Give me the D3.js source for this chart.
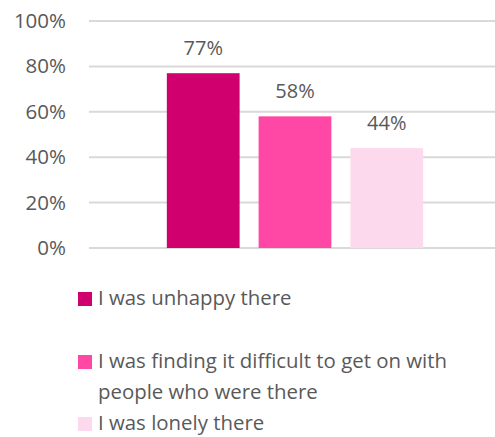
<!DOCTYPE html>
<html>
<head>
<meta charset="utf-8">
<script src="https://cdn.jsdelivr.net/npm/d3@7"></script>
<style>
  html, body { margin: 0; padding: 0; background: #fff; }
  svg { display: block; }
  text { font-family: "Open Sans", "DejaVu Sans", sans-serif; fill: #595959; }
</style>
</head>
<body>
<svg id="chart" width="495" height="437"></svg>
<script>
// Survey responses: share of respondents giving each reason
const series = [
  "I was unhappy there",
  "I was finding it difficult to get on with people who were there",
  "I was lonely there"
];
const values = [0.77, 0.58, 0.44];
const colors = ["#d0006f", "#ff48a5", "#fdd9ee"];
const yTicks = [0, 0.2, 0.4, 0.6, 0.8, 1.0];
const legendLines = [
  ["I was unhappy there"],
  ["I was finding it difficult to get on with", "people who were there"],
  ["I was lonely there"]
];

const svg = d3.select("#chart");
const plot = { left: 89, right: 501, top: 21, bottom: 248 };

const y = d3.scaleLinear().domain([0, 1]).range([plot.bottom, plot.top]);
const x = d3.scaleBand()
  .domain(series)
  .range([plot.left, plot.right])
  .paddingInner(0.207)
  .paddingOuter(0.848);

// gridlines
svg.append("g")
  .selectAll("line")
  .data(yTicks)
  .join("line")
  .attr("x1", plot.left)
  .attr("x2", plot.right)
  .attr("y1", d => y(d))
  .attr("y2", d => y(d))
  .attr("stroke", "#d9d9d9")
  .attr("stroke-width", 2);

// y axis labels
const yAxis = d3.axisLeft(y)
  .tickValues(yTicks)
  .tickFormat(d3.format(".0%"))
  .tickSize(0)
  .tickPadding(0);
const ya = svg.append("g")
  .attr("transform", `translate(66,0)`)
  .call(yAxis);
ya.select(".domain").remove();
ya.selectAll("text")
  .attr("font-size", 20.5)
  .attr("fill", "#595959")
  .style("font-family", "\"Open Sans\", sans-serif");

// bars
svg.append("g")
  .selectAll("rect")
  .data(series)
  .join("rect")
  .attr("x", d => x(d))
  .attr("width", x.bandwidth())
  .attr("y", (d, i) => y(values[i]))
  .attr("height", (d, i) => y(0) - y(values[i]))
  .attr("fill", (d, i) => colors[i]);

// value labels
svg.append("g")
  .selectAll("text")
  .data(series)
  .join("text")
  .attr("x", d => x(d) + x.bandwidth() / 2)
  .attr("y", (d, i) => y(values[i]) - 18)
  .attr("text-anchor", "middle")
  .attr("font-size", 20)
  .attr("fill", "#404040")
  .text((d, i) => d3.format(".0%")(values[i]));

// legend; the second entry wraps onto two lines
const legendRows = [305, 368, 430];
const legend = svg.append("g");
legendLines.forEach((lines, i) => {
  legend.append("rect")
    .attr("x", 78)
    .attr("y", legendRows[i] - 13)
    .attr("width", 14)
    .attr("height", 14)
    .attr("fill", colors[i]);
  const t = legend.append("text")
    .attr("x", 98)
    .attr("y", legendRows[i])
    .attr("font-size", 20.4);
  lines.forEach((line, j) => {
    t.append("tspan")
      .attr("x", 98)
      .attr("dy", j === 0 ? 0 : 31)
      .text(line);
  });
});
</script>
</body>
</html>
